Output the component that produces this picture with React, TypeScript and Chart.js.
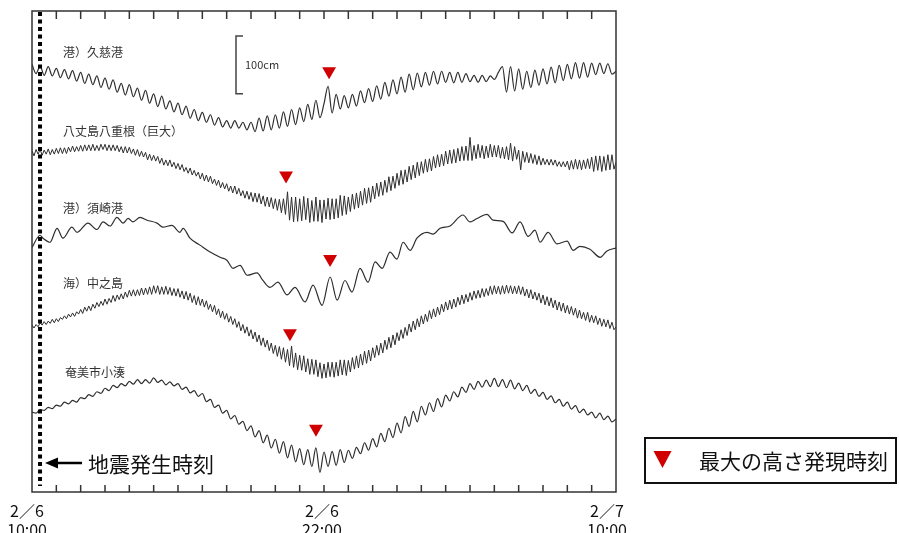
import React, { useEffect, useRef } from 'react';
import { Chart, registerables } from 'chart.js';

Chart.register(...registerables);

// Hours since 2/6 10:00; levels in cm. Each record is stacked on its own baseline.
const stationNames = ['港）久慈港', '八丈島八重根（巨大）', '港）須崎港', '海）中之島', '奄美市小湊'];
const stationBaselines = [676, 538, 400, 280, 124];

// 久慈港: one reading every 10 minutes
const kujiStep = 1 / 6;
const kujiLevels = [
  62, 46, 59, 43, 58, 42, 55, 39, 53, 37, 51, 33, 48, 29, 45, 27, 42, 22,
  38, 19, 35, 14, 29, 9, 27, 6, 21, 0, 17, -5, 11, -11, 7, -15, -1, -20,
  -5, -25, -10, -31, -16, -35, -21, -38, -25, -43, -30, -46, -35, -48, -35, -48, -38, -51,
  -38, -54, -31, -53, -27, -51, -25, -48, -20, -45, -16, -42, -13, -37, -7, -33, 0, -30,
  -6, 24, -22, 10, -15, 8, -13, 10, -10, 16, -4, 20, -2, 25, 2, 31, 7, 35,
  11, 40, 14, 45, 18, 47, 23, 48, 26, 50, 28, 50, 31, 48, 30, 48, 31, 46,
  32, 43, 31, 43, 32, 42, 36, 48, 58, 14, 58, 16, 54, 19, 50, 22, 52, 26,
  54, 28, 57, 30, 60, 34, 62, 37, 65, 38, 65, 40, 64, 44, 64, 46, 63, 45,
  50,
];

// 八丈島八重根: one reading every 5 minutes
const hachijoStep = 1 / 12;
const hachijoLevels = [
  51, 42, 53, 45, 53, 43, 52, 45, 54, 44, 53, 45,
  55, 46, 56, 46, 56, 46, 57, 49, 59, 49, 58, 50,
  60, 50, 61, 51, 61, 51, 62, 51, 60, 51, 62, 53,
  62, 51, 61, 51, 61, 51, 60, 49, 58, 47, 58, 47,
  57, 46, 54, 43, 53, 41, 50, 40, 48, 35, 45, 34,
  43, 33, 41, 29, 38, 26, 35, 25, 35, 23, 31, 20,
  29, 18, 27, 15, 22, 12, 21, 9, 17, 7, 14, 2,
  12, -1, 9, -3, 7, -6, 2, -9, 0, -13, -4, -15,
  -6, -19, -10, -22, -10, -24, -14, -27, -18, -31, -19, -33,
  -21, -37, -22, -38, -23, -41, -27, -45, -29, -46, -30, -49,
  -32, -52, -33, -56, -32, -59, -20, -69, -29, -72, -29, -71,
  -32, -70, -28, -68, -31, -73, -35, -71, -29, -71, -34, -73,
  -34, -67, -31, -68, -32, -67, -32, -65, -26, -61, -27, -59,
  -29, -54, -24, -50, -22, -48, -19, -43, -14, -40, -13, -38,
  -10, -32, -5, -28, -3, -26, 0, -21, 6, -18, 7, -14,
  12, -9, 17, -7, 18, -3, 24, 1, 26, 4, 31, 8,
  32, 12, 36, 14, 37, 16, 41, 21, 44, 23, 45, 25,
  50, 28, 52, 29, 53, 30, 55, 33, 58, 34, 59, 34,
  74, 34, 60, 37, 62, 39, 60, 37, 59, 39, 62, 40,
  60, 40, 60, 38, 57, 37, 58, 35, 64, 33, 58, 36,
  52, 18, 50, 31, 48, 30, 46, 29, 44, 27, 42, 26,
  38, 27, 36, 26, 36, 26, 35, 24, 32, 23, 32, 23,
  33, 18, 34, 19, 36, 19, 35, 18, 35, 20, 37, 20,
  40, 15, 42, 17, 42, 15, 41, 17, 44, 18, 44, 19,
  31,
];

// 須崎港: readings at the turning points of the record
const susakiTimes = [
  0.00, 0.33, 0.45, 0.74, 1.03, 1.27, 1.64, 1.85, 2.30, 2.67, 2.92, 3.21, 3.49, 3.74, 3.95, 4.15,
  4.44, 4.73, 5.14, 5.38, 5.75, 6.08, 6.21, 6.49, 6.90, 7.32, 7.73, 8.01, 8.26, 8.55, 8.84, 9.25,
  9.49, 9.78, 10.11, 10.48, 10.81, 11.22, 11.55, 11.92, 12.25, 12.54, 12.86, 13.15, 13.48, 13.81,
  14.10, 14.39, 14.71, 15.00, 15.25, 15.54, 15.82, 16.24, 16.48, 16.77, 17.18, 17.71, 18.00, 18.29,
  18.70, 18.95, 19.36, 19.73, 20.06, 20.39, 20.67, 20.88, 21.21, 21.58, 21.99, 22.24, 22.52, 22.93,
  23.35, 23.63, 24.00,
];
const susakiLevels = [
  22, 43, 38, 31, 55, 38, 57, 48, 64, 53, 66, 59, 74, 64, 72, 66,
  74, 69, 64, 57, 60, 48, 55, 38, 26, 14, 5, 0, -14, -9, -26, -22,
  -35, -47, -38, -60, -47, -72, -43, -78, -29, -69, -35, -55, -14, -38,
  -3, -14, 14, 2, 31, 17, 38, 48, 45, 55, 59, 78, 66, 72,
  79, 69, 67, 47, 66, 41, 52, 31, 48, 28, 33, 17, 24, 19,
  5, 16, 21,
];

// 中之島: one reading every 5 minutes
const nakanoStep = 1 / 12;
const nakanoLevels = [
  8, 3, 9, 5, 12, 8, 14, 9, 15, 11, 18, 12,
  19, 14, 21, 18, 24, 19, 27, 22, 29, 23, 31, 27,
  35, 28, 39, 32, 41, 33, 44, 37, 47, 40, 49, 42,
  53, 44, 54, 47, 59, 49, 60, 52, 62, 53, 65, 56,
  68, 58, 69, 58, 69, 59, 72, 60, 72, 61, 74, 61,
  76, 63, 76, 61, 74, 61, 75, 61, 73, 59, 71, 58,
  71, 56, 67, 53, 66, 51, 63, 47, 59, 43, 57, 42,
  53, 39, 50, 35, 44, 31, 42, 26, 36, 21, 32, 18,
  28, 13, 23, 9, 19, 4, 14, -2, 9, -6, 5, -11,
  0, -16, -4, -21, -9, -27, -14, -30, -18, -36, -23, -41,
  -27, -46, -29, -51, -31, -56, -34, -62, -28, -65, -40, -69,
  -44, -70, -45, -73, -50, -77, -51, -77, -52, -81, -57, -84,
  -59, -83, -56, -81, -56, -82, -56, -80, -52, -78, -52, -79,
  -53, -73, -48, -68, -45, -66, -42, -61, -37, -58, -35, -54,
  -31, -48, -27, -44, -23, -40, -18, -34, -13, -31, -9, -26,
  -5, -19, 0, -15, 4, -10, 10, -4, 15, 0, 19, 5,
  24, 10, 27, 14, 33, 19, 36, 22, 39, 26, 44, 31,
  48, 34, 51, 36, 53, 39, 56, 43, 60, 45, 61, 48,
  64, 51, 67, 54, 68, 55, 71, 57, 71, 59, 75, 61,
  76, 62, 75, 61, 76, 62, 77, 63, 76, 62, 75, 62,
  76, 61, 74, 58, 70, 55, 69, 53, 65, 51, 63, 46,
  60, 43, 57, 41, 55, 38, 51, 34, 48, 32, 46, 29,
  42, 27, 40, 25, 37, 20, 34, 19, 30, 16, 30, 13,
  25, 12, 24, 9, 20, 6, 18, 5, 17, 2, 13, 0,
  5,
];

// 奄美市小湊: one reading every 10 minutes
const amamiStep = 1 / 6;
const amamiLevels = [
  14, 12, 18, 17, 22, 20, 26, 24, 31, 28, 34, 31, 39, 37, 44, 41, 49, 46,
  55, 51, 60, 56, 63, 59, 67, 62, 70, 63, 70, 64, 73, 65, 69, 61, 66, 59,
  63, 53, 57, 47, 51, 41, 46, 32, 36, 22, 26, 12, 17, 2, 8, -7, -2, -18,
  -10, -29, -18, -39, -26, -48, -33, -57, -37, -65, -43, -72, -49, -77, -51, -80, -48, -90,
  -55, -80, -54, -78, -51, -73, -52, -66, -47, -58, -39, -52, -32, -46, -23, -37, -14, -30,
  -5, -22, 6, -11, 15, -3, 24, 9, 30, 15, 37, 23, 43, 33, 49, 40, 57, 48,
  63, 53, 67, 57, 69, 58, 72, 58, 70, 56, 69, 54, 64, 51, 60, 46, 53, 41,
  48, 36, 42, 30, 36, 24, 31, 19, 25, 13, 19, 9, 14, 4, 12, 1, 7, -3,
  2,
];

// Time of the maximum height at each station (▼), on the stacked axis
const peakTimes = [12.21, 10.44, 12.25, 10.6, 11.67];
const peakLevels = [726, 546, 402, 274, 109];

const quakeTime = 0.33;
const tickTimes = [0, 12, 24];
const tickDates = ['2／6', '2／6', '2／7'];
const tickClocks = ['10:00', '22:00', '10:00'];
const scaleBarCm = 100;
const scaleBarBase = 687;
const scaleBarLabel = '100cm';
const quakeLabel = '地震発生時刻';
const legendLabel = '最大の高さ発現時刻';

const JP = '"Noto Sans CJK JP", "Noto Sans", sans-serif';

function uniform(step: number, values: number[], base: number) {
  return values.map((v, i) => ({ x: i * step, y: v + base }));
}
function paired(times: number[], values: number[], base: number) {
  return values.map((v, i) => ({ x: times[i], y: v + base }));
}

const decor = {
  id: 'decor',
  afterDatasetsDraw(chart: any) {
    const { ctx, chartArea: a, scales } = chart;
    const xs = scales.x;
    const ys = scales.y;
    ctx.save();

    // dotted line: earthquake time
    const qx = xs.getPixelForValue(quakeTime);
    ctx.strokeStyle = '#000';
    ctx.lineWidth = 4;
    ctx.setLineDash([4, 3.5]);
    ctx.beginPath();
    ctx.moveTo(qx, a.top + 1);
    ctx.lineTo(qx, a.bottom - 6);
    ctx.stroke();
    ctx.setLineDash([]);

    // frame
    ctx.strokeStyle = '#333';
    ctx.lineWidth = 1.5;
    ctx.strokeRect(a.left, a.top, a.right - a.left, a.bottom - a.top);

    // hourly ticks, pointing inward
    ctx.beginPath();
    for (let h = 1; h < 24; h++) {
      const x = xs.getPixelForValue(h);
      ctx.moveTo(x, a.top);
      ctx.lineTo(x, a.top + 8);
      ctx.moveTo(x, a.bottom);
      ctx.lineTo(x, a.bottom - 7);
    }
    ctx.stroke();

    // x labels
    const nudges = [-5, -2, -9];
    ctx.fillStyle = '#111';
    ctx.textAlign = 'center';
    ctx.textBaseline = 'middle';
    tickTimes.forEach((t, i) => {
      const x = xs.getPixelForValue(t) + nudges[i];
      ctx.font = `16px ${JP}`;
      ctx.fillText(tickDates[i], x, a.bottom + 19);
      ctx.fillText(tickClocks[i], x, a.bottom + 38);
    });

    // station names
    ctx.textAlign = 'left';
    ctx.fillStyle = '#333';
    ctx.font = `12px ${JP}`;
    const nameY = [52, 131, 208, 283, 372];
    stationNames.forEach((n, i) => ctx.fillText(n, i === 4 ? 65 : 63, nameY[i]));

    // 100 cm scale bar
    const y0 = ys.getPixelForValue(scaleBarBase);
    const y1 = ys.getPixelForValue(scaleBarBase + scaleBarCm);
    ctx.strokeStyle = '#444';
    ctx.lineWidth = 1.5;
    ctx.beginPath();
    ctx.moveTo(243, y1);
    ctx.lineTo(236, y1);
    ctx.lineTo(236, y0);
    ctx.lineTo(243, y0);
    ctx.stroke();
    ctx.font = `11px ${JP}`;
    ctx.fillText(scaleBarLabel, 245, (y0 + y1) / 2);

    // earthquake arrow + label
    ctx.fillStyle = '#000';
    ctx.strokeStyle = '#000';
    ctx.beginPath();
    ctx.moveTo(45, 463);
    ctx.lineTo(58, 457.5);
    ctx.lineTo(58, 468.5);
    ctx.closePath();
    ctx.fill();
    ctx.lineWidth = 2.5;
    ctx.beginPath();
    ctx.moveTo(56, 463);
    ctx.lineTo(82, 463);
    ctx.stroke();
    ctx.fillStyle = '#111';
    ctx.font = `21px ${JP}`;
    ctx.fillText(quakeLabel, 88, 464);

    // legend box
    ctx.strokeStyle = '#111';
    ctx.lineWidth = 2;
    ctx.strokeRect(645, 438, 251, 45);
    ctx.fillStyle = '#d00000';
    ctx.beginPath();
    ctx.moveTo(653.5, 451);
    ctx.lineTo(671.5, 451);
    ctx.lineTo(662.5, 468);
    ctx.closePath();
    ctx.fill();
    ctx.fillStyle = '#111';
    ctx.font = `21px ${JP}`;
    ctx.fillText(legendLabel, 699, 461);

    ctx.restore();
  },
};

export default function App() {
  const ref = useRef<HTMLCanvasElement>(null);

  useEffect(() => {
    const lineStyle = {
      borderColor: '#2e2e2e',
      borderWidth: 1.1,
      pointRadius: 0,
      pointHoverRadius: 0,
      fill: false,
    };
    const chart = new Chart(ref.current as HTMLCanvasElement, {
      type: 'line',
      data: {
        datasets: [
          { ...lineStyle, label: stationNames[0], borderWidth: 1.2, cubicInterpolationMode: 'monotone', data: uniform(kujiStep, kujiLevels, stationBaselines[0]) },
          { ...lineStyle, label: stationNames[1], borderWidth: 1, data: uniform(hachijoStep, hachijoLevels, stationBaselines[1]) },
          { ...lineStyle, label: stationNames[2], borderWidth: 1.2, cubicInterpolationMode: 'monotone', data: paired(susakiTimes, susakiLevels, stationBaselines[2]) },
          { ...lineStyle, label: stationNames[3], borderWidth: 1, data: uniform(nakanoStep, nakanoLevels, stationBaselines[3]) },
          { ...lineStyle, label: stationNames[4], borderWidth: 1.2, cubicInterpolationMode: 'monotone', data: uniform(amamiStep, amamiLevels, stationBaselines[4]) },
          {
            label: legendLabel,
            data: peakTimes.map((t, i) => ({ x: t, y: peakLevels[i] })),
            showLine: false,
            pointStyle: 'triangle',
            pointRotation: 180,
            pointRadius: 8,
            pointHoverRadius: 8,
            pointBackgroundColor: '#d00000',
            pointBorderWidth: 0,
            borderColor: '#d00000',
          } as any,
        ],
      },
      options: {
        animation: false,
        responsive: false,
        devicePixelRatio: 1,
        events: [],
        layout: { padding: { left: 32, right: 283, top: 11, bottom: 41 } },
        scales: {
          x: { type: 'linear', min: 0, max: 24, display: false },
          y: { type: 'linear', min: 0, max: 830, display: false },
        },
        plugins: { legend: { display: false }, tooltip: { enabled: false } },
      },
      plugins: [decor],
    } as any);
    return () => chart.destroy();
  }, []);

  return (
    <div style={{ position: 'fixed', left: 0, top: 0, width: 899, height: 533, background: '#fff' }}>
      <canvas ref={ref} width={899} height={533} style={{ display: 'block', width: 899, height: 533 }} />
    </div>
  );
}
